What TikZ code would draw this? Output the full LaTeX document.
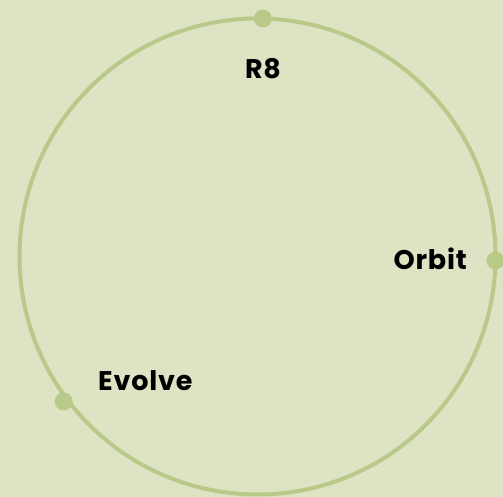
\documentclass[tikz,border=0pt]{standalone}
\usepackage{fontspec}
\setmainfont{Poppins}[LetterSpace=3]
\usetikzlibrary{calc}
\definecolor{bgsage}{HTML}{DDE3C3}
\definecolor{ringsage}{HTML}{B9C98A}
\tikzset{
  ringdot/.style={circle, fill=ringsage, inner sep=0pt, minimum size=18pt},
  ringlabel/.style={font=\bfseries\fontsize{27}{30}\selectfont, text=black, inner sep=0pt}
}
\begin{document}
\begin{tikzpicture}[x=1pt,y=1pt]
            \def\R{238}
            \fill[bgsage] (0,0) rectangle (503,497);
            \useasboundingbox (0,0) rectangle (503,497);

            \coordinate (c) at (257.5,240.5);
            \draw[ringsage, line width=4pt] (c) circle (\R);

            \node[ringdot] (top) at ($(c)+(88.7:\R)$) {};
            \node[ringdot] (right) at ($(c)+(-1:\R)$) {};
            \node[ringdot] (lowleft) at ($(c)+(216.8:\R+4)$) {};

            \node[ringlabel] (r8) at (263,428) {R8};
            \node[ringlabel, anchor=east] (orbit) at (467,238) {Orbit};
            \node[ringlabel, anchor=west] (evolve) at (98,116) {Evolve};
        \end{tikzpicture}
\end{document}
